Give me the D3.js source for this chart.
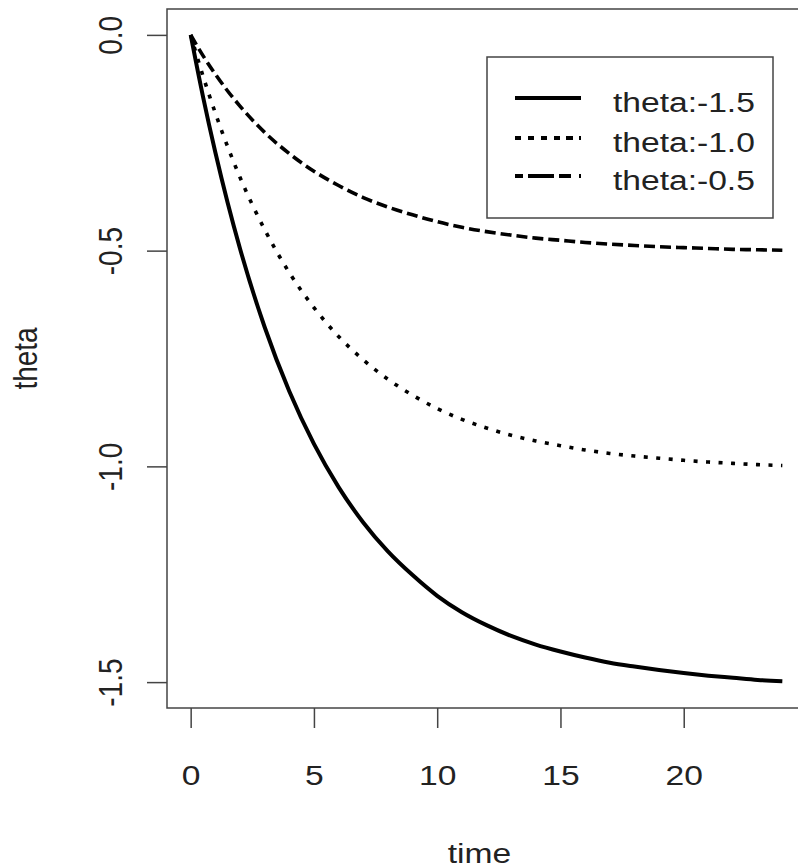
<!DOCTYPE html>
<html>
<head>
<meta charset="utf-8">
<script src="https://cdn.jsdelivr.net/npm/d3@7"></script>
<style>
  html, body { margin: 0; padding: 0; background: #fff; }
  svg { display: block; }
  text { font-family: "Liberation Sans", Arial, sans-serif; fill: #222; }
</style>
</head>
<body>
<svg id="chart" width="798" height="868"></svg>
<script>
(function () {
  // time points and the three theta paths
  const time = [0, 0.5, 1, 1.5, 2, 3, 4, 5, 6, 7, 8, 9, 10, 11, 12, 13, 14, 15, 16, 17, 18, 19, 20, 21, 22, 23, 24];
  const thetaA = [0, -0.143, -0.272, -0.389, -0.495, -0.677, -0.826, -0.948, -1.048, -1.130, -1.197, -1.252, -1.300, -1.338, -1.368, -1.393, -1.413, -1.429, -1.443, -1.455, -1.464, -1.472, -1.479, -1.485, -1.490, -1.495, -1.498];
  const thetaB = [0, -0.095, -0.181, -0.259, -0.330, -0.451, -0.551, -0.632, -0.699, -0.753, -0.798, -0.835, -0.866, -0.891, -0.911, -0.928, -0.941, -0.952, -0.962, -0.970, -0.976, -0.981, -0.986, -0.990, -0.993, -0.996, -0.998];
  const thetaC = [0, -0.048, -0.091, -0.130, -0.165, -0.226, -0.275, -0.316, -0.349, -0.377, -0.399, -0.417, -0.433, -0.446, -0.456, -0.464, -0.471, -0.476, -0.481, -0.485, -0.488, -0.491, -0.493, -0.495, -0.497, -0.498, -0.499];
  const seriesNames = ['theta:-1.5', 'theta:-1.0', 'theta:-0.5'];
  const xTicks = [0, 5, 10, 15, 20];
  const yTicks = [0, -0.5, -1.0, -1.5];

  const dashes = [null, '4,8.5', '11,5'];
  const legendDashes = [null, '6,7,6,7,6,7,6', '8,5,26,5,12'];

  const svg = d3.select('#chart');
  const left = 167, top = 9, right = 806, bottom = 708;
  const stretch = 1.2; // text in the picture is a little wide

  // R style 4% padding on both axes
  const x = d3.scaleLinear().domain([-0.96, 24.96]).range([left, right]);
  const y = d3.scaleLinear().domain([-1.56, 0.06]).range([bottom, top]);

  // plain hyphen minus like R prints it
  const fmtY = d => d.toFixed(1);

  // plot box
  svg.append('rect')
    .attr('x', left).attr('y', top)
    .attr('width', right - left).attr('height', bottom - top)
    .attr('fill', 'none').attr('stroke', '#444').attr('stroke-width', 1.5);

  // x axis
  const gx = svg.append('g')
    .attr('transform', `translate(0,${bottom})`)
    .call(d3.axisBottom(x).tickValues(xTicks).tickSize(20).tickFormat(d3.format('d')));
  gx.select('.domain').remove();
  gx.selectAll('.tick line').attr('stroke', '#444').attr('stroke-width', 1.5);
  gx.selectAll('.tick text')
    .attr('y', 0).attr('dy', null)
    .attr('transform', `translate(0,77) scale(${stretch},1)`)
    .attr('font-size', 28)
    .attr('fill', '#222');

  // y axis
  const gy = svg.append('g')
    .attr('transform', `translate(${left},0)`)
    .call(d3.axisLeft(y).tickValues(yTicks).tickSize(20).tickFormat(fmtY));
  gy.select('.domain').remove();
  gy.selectAll('.tick line').attr('stroke', '#444').attr('stroke-width', 1.5);
  gy.selectAll('.tick text')
    .attr('x', 0).attr('dy', null)
    .attr('text-anchor', 'middle')
    .attr('transform', `translate(-45,0) scale(${stretch},1) rotate(-90)`)
    .attr('font-size', 28)
    .attr('fill', '#222');

  // axis titles
  svg.append('text')
    .attr('transform', `translate(${(left + 798) / 2 - 3},863) scale(${stretch},1)`)
    .attr('text-anchor', 'middle')
    .attr('font-size', 28)
    .text('time');
  svg.append('text')
    .attr('transform', `translate(37,${(top + bottom) / 2}) scale(${stretch},1) rotate(-90)`)
    .attr('text-anchor', 'middle')
    .attr('font-size', 28)
    .text('theta');

  // curves
  const series = [thetaA, thetaB, thetaC];
  const line = d3.line()
    .x((d, i) => x(time[i]))
    .y(d => y(d))
    .curve(d3.curveMonotoneX);

  svg.append('g')
    .selectAll('path')
    .data(series)
    .join('path')
    .attr('d', d => line(d))
    .attr('fill', 'none')
    .attr('stroke', '#000')
    .attr('stroke-width', (d, i) => i === 0 ? 4 : 3.6)
    .attr('stroke-dasharray', (d, i) => dashes[i]);

  // legend
  const lg = svg.append('g');
  lg.append('rect')
    .attr('x', 487).attr('y', 57)
    .attr('width', 286).attr('height', 161)
    .attr('fill', '#fff').attr('stroke', '#444').attr('stroke-width', 1.5);

  const rows = lg.selectAll('g.row')
    .data(seriesNames)
    .join('g')
    .attr('class', 'row')
    .attr('transform', (d, i) => `translate(0,${[98, 138, 176][i]})`);

  rows.append('line')
    .attr('x1', 515).attr('x2', 581)
    .attr('y1', 0).attr('y2', 0)
    .attr('stroke', '#000')
    .attr('stroke-width', 4)
    .attr('stroke-dasharray', (d, i) => legendDashes[i]);

  rows.append('text')
    .attr('transform', `translate(613,14) scale(${stretch},1)`)
    .attr('font-size', 28)
    .text(d => d);
})();
</script>
</body>
</html>
